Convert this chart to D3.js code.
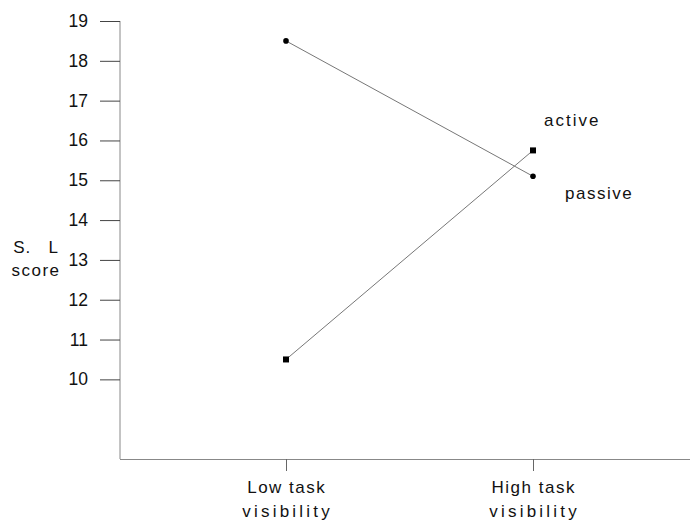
<!DOCTYPE html>
<html>
<head>
<meta charset="utf-8">
<script src="https://cdn.jsdelivr.net/npm/d3@7"></script>
<style>
  body { margin: 0; background: #fff; }
  text { font-family: "Liberation Sans", Arial, sans-serif; fill: #111; }
</style>
</head>
<body>
<div id="chart-area"></div>
<script>
// Categories on the x axis (two lines each)
var categories = ["Low task visibility", "High task visibility"];
var categoryLines = [["Low task", "visibility"], ["High task", "visibility"]];

// Series values
var activeValues = [10.5, 15.75];
var passiveValues = [18.5, 15.1];

// Y tick labels
var yTicks = [10, 11, 12, 13, 14, 15, 16, 17, 18, 19];

var width = 694, height = 522;

var svg = d3.select("#chart-area")
    .append("svg")
        .attr("width", width)
        .attr("height", height);

// X Scale
var x = d3.scalePoint()
    .domain(categories)
    .range([286, 533]);

// Y Scale
var y = d3.scaleLinear()
    .domain([8, 19])
    .range([459, 21]);

// Y axis line + ticks
svg.append("line")
    .attr("x1", 120).attr("x2", 120)
    .attr("y1", y(19)).attr("y2", y(8))
    .attr("stroke", "#888").attr("stroke-width", 1);

svg.selectAll(".ytick")
    .data(yTicks)
    .enter().append("line")
        .attr("class", "ytick")
        .attr("x1", 100).attr("x2", 120)
        .attr("y1", function (d) { return y(d) + 0.5; })
        .attr("y2", function (d) { return y(d) + 0.5; })
        .attr("stroke", "#444").attr("stroke-width", 1);

svg.selectAll(".ylab")
    .data(yTicks)
    .enter().append("text")
        .attr("class", "ylab")
        .attr("x", 88)
        .attr("y", function (d) { return y(d) + 6; })
        .attr("text-anchor", "end")
        .attr("font-size", "17.5px")
        .text(function (d) { return d; });

// X axis line + ticks
svg.append("line")
    .attr("x1", 120).attr("x2", 690)
    .attr("y1", y(8) + 0.5).attr("y2", y(8) + 0.5)
    .attr("stroke", "#888").attr("stroke-width", 1);

svg.selectAll(".xtick")
    .data(categories)
    .enter().append("line")
        .attr("class", "xtick")
        .attr("x1", function (d) { return x(d) + 0.5; })
        .attr("x2", function (d) { return x(d) + 0.5; })
        .attr("y1", y(8)).attr("y2", y(8) + 12)
        .attr("stroke", "#666").attr("stroke-width", 1);

var spacing = [1.5, 3.2];
categories.forEach(function (c, i) {
    categoryLines[i].forEach(function (line, j) {
        svg.append("text")
            .attr("x", x(c) + spacing[j] / 2)
            .attr("y", 493 + j * 24)
            .attr("text-anchor", "middle")
            .attr("font-size", "17px")
            .attr("letter-spacing", spacing[j] + "px")
            .text(line);
    });
});

// Y axis label
svg.append("text").attr("x", 36).attr("y", 253).attr("text-anchor", "middle")
    .attr("font-size", "17px").attr("letter-spacing", "1px")
    .attr("xml:space", "preserve").style("white-space", "pre").text("S.   L");
svg.append("text").attr("x", 36).attr("y", 276).attr("text-anchor", "middle")
    .attr("font-size", "17px").attr("letter-spacing", "1.5px").text("score");

// Lines
var line = d3.line()
    .x(function (d, i) { return x(categories[i]); })
    .y(function (d) { return y(d); });

svg.append("path").datum(activeValues)
    .attr("d", line).attr("fill", "none")
    .attr("stroke", "#777").attr("stroke-width", 1);
svg.append("path").datum(passiveValues)
    .attr("d", line).attr("fill", "none")
    .attr("stroke", "#777").attr("stroke-width", 1);

// Markers
svg.selectAll(".sq")
    .data(activeValues)
    .enter().append("rect")
        .attr("class", "sq")
        .attr("x", function (d, i) { return x(categories[i]) - 3; })
        .attr("y", function (d) { return y(d) - 3; })
        .attr("width", 6).attr("height", 6)
        .attr("fill", "#000");

svg.selectAll(".dot")
    .data(passiveValues)
    .enter().append("circle")
        .attr("class", "dot")
        .attr("cx", function (d, i) { return x(categories[i]); })
        .attr("cy", function (d) { return y(d); })
        .attr("r", 2.8)
        .attr("fill", "#000");

// Series labels
svg.append("text").attr("x", 544).attr("y", 126)
    .attr("font-size", "17px").attr("letter-spacing", "2px").text("active");
svg.append("text").attr("x", 565).attr("y", 199)
    .attr("font-size", "17px").attr("letter-spacing", "1.5px").text("passive");
</script>
</body>
</html>
